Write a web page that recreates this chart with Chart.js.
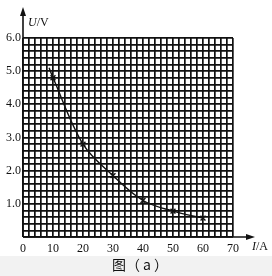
<!DOCTYPE html>
<html lang="zh">
<head>
<meta charset="UTF-8">
<title>U-I 图像</title>
<script src="https://cdn.jsdelivr.net/npm/chart.js"></script>
<style>
  html, body { margin: 0; padding: 0; background: #fff; }
  #wrap { width: 272px; height: 276px; }
</style>
</head>
<body>
<div id="wrap"><canvas id="uiChart" width="272" height="276"></canvas></div>
<script>
// measured points (crosses)
const currentA = [10, 20, 30, 40, 50, 60];
const voltageV = [4.8, 2.8, 1.85, 1.1, 0.78, 0.57];
// hand-drawn curve through the points
const curveI = [8.7, 10, 20, 30, 40, 50, 60];
const curveU = [5.1, 4.8, 2.8, 1.85, 1.1, 0.78, 0.57];
// tick labels
const xTickLabels = ['0', '10', '20', '30', '40', '50', '60', '70'];
const yTickLabels = ['1.0', '2.0', '3.0', '4.0', '5.0', '6.0'];

const serif = '"Liberation Serif", "Times New Roman", serif';
const ink = '#111';

const axesPlugin = {
    id: 'axesPlugin',
    beforeDraw(chart) {
        const c = chart.ctx;
        c.save();
        c.fillStyle = '#fff';
        c.fillRect(0, 0, chart.width, chart.height);
        c.fillStyle = '#f2f2f2';
        c.fillRect(0, 256, chart.width, chart.height - 256);
        c.restore();
    },
    afterDraw(chart) {
        const c = chart.ctx;
        const a = chart.chartArea;
        c.save();
        c.strokeStyle = ink;
        c.fillStyle = ink;
        c.lineWidth = 1.6;
        // y axis with arrow
        c.beginPath();
        c.moveTo(a.left, a.bottom);
        c.lineTo(a.left, 14);
        c.stroke();
        c.beginPath();
        c.moveTo(a.left, 7);
        c.lineTo(a.left - 3, 16);
        c.lineTo(a.left + 3, 16);
        c.closePath();
        c.fill();
        // x axis with arrow
        c.beginPath();
        c.moveTo(a.left, a.bottom);
        c.lineTo(248, a.bottom);
        c.stroke();
        c.beginPath();
        c.moveTo(255, a.bottom);
        c.lineTo(246, a.bottom - 3);
        c.lineTo(246, a.bottom + 3);
        c.closePath();
        c.fill();
        // axis titles
        c.textBaseline = 'middle';
        c.textAlign = 'left';
        c.font = 'italic 12px ' + serif;
        c.fillText('U', 28, 23);
        let w = c.measureText('U').width;
        c.font = '12px ' + serif;
        c.fillText('/V', 28 + w, 23);
        c.font = 'italic 12px ' + serif;
        c.fillText('I', 252, 247);
        w = c.measureText('I').width;
        c.font = '12px ' + serif;
        c.fillText('/A', 252 + w, 247);
        // caption
        c.textAlign = 'center';
        c.font = '14px "Noto Sans CJK SC", sans-serif';
        c.fillText('图（ a ）', 140, 265);
        c.restore();
    }
};

new Chart(document.getElementById('uiChart'), {
    type: 'scatter',
    data: {
        datasets: [
            {
                label: 'curve',
                data: curveI.map((x, i) => ({ x: x, y: curveU[i] })),
                showLine: true,
                borderColor: ink,
                borderWidth: 1.4,
                pointRadius: 0,
                tension: 0.35,
                fill: false
            },
            {
                label: 'points',
                data: currentA.map((x, i) => ({ x: x, y: voltageV[i] })),
                showLine: false,
                pointStyle: 'crossRot',
                pointRadius: 3.5,
                borderColor: ink,
                borderWidth: 1.4
            }
        ]
    },
    options: {
        responsive: false,
        animation: false,
        layout: { padding: { top: 38, right: 39, left: 0, bottom: 0 } },
        plugins: { legend: { display: false }, tooltip: { enabled: false } },
        scales: {
            x: {
                type: 'linear',
                min: 0,
                max: 70,
                afterFit(s) { s.height = 39; },
                border: { display: false },
                grid: { color: '#111', lineWidth: 1.7, drawTicks: false },
                ticks: {
                    stepSize: 2,
                    autoSkip: false,
                    maxRotation: 0,
                    padding: 5,
                    color: ink,
                    font: { family: serif, size: 12 },
                    callback: v => xTickLabels.includes(String(Math.round(v))) && Math.abs(v % 10) < 1e-6 ? String(Math.round(v)) : ''
                }
            },
            y: {
                type: 'linear',
                min: 0,
                max: 6,
                afterFit(s) { s.width = 23; },
                border: { display: false },
                grid: { color: '#111', lineWidth: 1.7, drawTicks: false },
                ticks: {
                    stepSize: 0.2,
                    autoSkip: false,
                    padding: 2,
                    color: ink,
                    font: { family: serif, size: 12 },
                    callback: v => {
                        const s = Number(v).toFixed(1);
                        return Math.abs(v - Math.round(v)) < 1e-6 && yTickLabels.includes(s) ? s : '';
                    }
                }
            }
        }
    },
    plugins: [axesPlugin]
});
</script>
</body>
</html>
